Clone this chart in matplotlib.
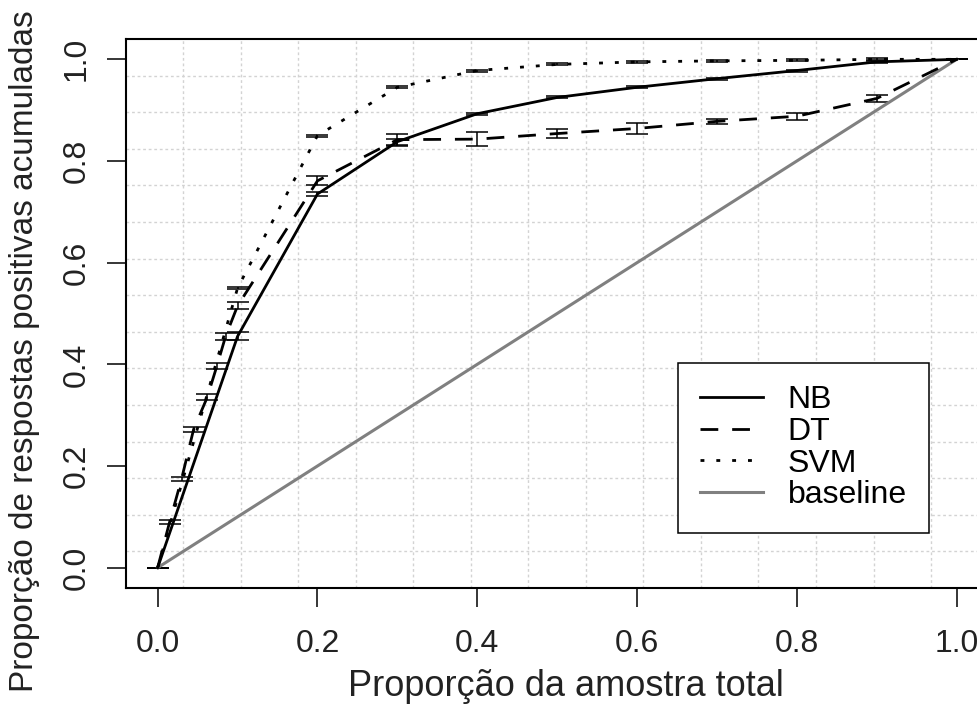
import numpy as np
import matplotlib.pyplot as plt
from matplotlib.lines import Line2D

plt.rcParams['font.family'] = ['Liberation Sans', 'DejaVu Sans']
plt.rcParams['font.size'] = 23

# cumulative gains data
nb_x = [0.0, 0.1, 0.2, 0.3, 0.4, 0.5, 0.6, 0.7, 0.8, 0.9, 1.0]
nb_y = [0.0, 0.455, 0.735, 0.838, 0.893, 0.925, 0.945, 0.962, 0.978, 0.995, 1.0]
nb_err = [0.0, 0.008, 0.004, 0.006, 0.002, 0.002, 0.002, 0.002, 0.002, 0.002, 0.0]

dt_x = [0.0, 0.015, 0.03, 0.045, 0.062, 0.074, 0.085, 0.1,
        0.2, 0.3, 0.4, 0.5, 0.6, 0.7, 0.8, 0.9, 1.0]
dt_y = [0.0, 0.09, 0.175, 0.272, 0.335, 0.396, 0.455, 0.515,
        0.761, 0.842, 0.843, 0.854, 0.864, 0.878, 0.888, 0.923, 1.0]
dt_err = [0.0, 0.004, 0.004, 0.005, 0.006, 0.006, 0.007, 0.007,
          0.009, 0.012, 0.014, 0.008, 0.011, 0.005, 0.007, 0.006, 0.0]

svm_x = [0.0, 0.1, 0.2, 0.3, 0.4, 0.5, 0.6, 0.7, 0.8, 0.9, 1.0]
svm_y = [0.0, 0.55, 0.85, 0.945, 0.978, 0.99, 0.995, 0.997, 0.998, 1.0, 1.0]
svm_err = [0.0, 0.002, 0.002, 0.002, 0.002, 0.002, 0.002, 0.002, 0.002, 0.002, 0.0]

base_x = [0.0, 1.0]
base_y = [0.0, 1.0]

labels = ['NB', 'DT', 'SVM', 'baseline']

W, H = 977, 706
fig = plt.figure(figsize=(W / 100, H / 100), dpi=100)
# plot region runs past the right edge, like the cropped original
ax = fig.add_axes([125.7 / W, 1 - 588 / H, 862.9 / W, 549 / H])

xlim = (-0.04, 1.04)
ylim = (-0.04, 1.04)
ax.set_xlim(xlim)
ax.set_ylim(ylim)

# R style grid(15, 15)
gx = xlim[0] + (xlim[1] - xlim[0]) * np.arange(1, 15) / 15
gy = ylim[0] + (ylim[1] - ylim[0]) * np.arange(1, 15) / 15
for g in gx:
    ax.axvline(g, color='#d3d3d3', lw=1.0, ls=(0, (2, 2)), zorder=0)
for g in gy:
    ax.axhline(g, color='#d3d3d3', lw=1.0, ls=(0, (2, 2)), zorder=0)

lw = 2.0
dash = (0, (6.4, 5))
dots = (0, (1.4, 4.3))
ebk = dict(ecolor='black', elinewidth=1.1, capsize=8, capthick=1.1)
ax.errorbar(nb_x, nb_y, yerr=nb_err, color='black', lw=lw, ls='-', **ebk)
ax.errorbar(dt_x, dt_y, yerr=dt_err, color='black', lw=lw, ls=dash, **ebk)
ax.errorbar(svm_x, svm_y, yerr=svm_err, color='black', lw=lw, ls=dots, **ebk)
ax.plot(base_x, base_y, color='#808080', lw=2.2)

ticks = [0.0, 0.2, 0.4, 0.6, 0.8, 1.0]
tick_labels = ['0.0', '0.2', '0.4', '0.6', '0.8', '1.0']
ax.set_xticks(ticks)
ax.set_yticks(ticks)
ax.set_xticklabels(tick_labels, color='#222222')
ax.set_yticklabels(tick_labels, rotation=90, va='center', color='#222222')
ax.tick_params(axis='x', length=13.5, width=1.1, pad=16)
ax.tick_params(axis='y', length=13.5, width=1.1, pad=11)
for s in ax.spines.values():
    s.set_linewidth(1.5)

ax.set_xlabel('Proporção da amostra total', color='#222222', fontsize=26)
ax.set_ylabel('Proporção de respostas positivas acumuladas', color='#222222',
              fontsize=24)
ax.xaxis.set_label_coords(0.51, -0.147)
ax.yaxis.label.set_verticalalignment('center')
ax.yaxis.set_label_coords(-0.117, 0.432)

handles = [Line2D([], [], color='black', lw=lw, ls='-'),
           Line2D([], [], color='black', lw=lw, ls=dash),
           Line2D([], [], color='black', lw=lw, ls=dots),
           Line2D([], [], color='#808080', lw=2.2)]
leg = fig.legend(handles, labels, loc='upper left',
                 bbox_to_anchor=(678 / W, 1 - 363 / H), borderaxespad=0,
                 fancybox=False, framealpha=1, edgecolor='black',
                 handlelength=1.95, handletextpad=0.78, labelspacing=0.05,
                 borderpad=0.7, fontsize=23)
leg.get_frame().set_linewidth(1.1)

fig.savefig('out.png', dpi=100)
